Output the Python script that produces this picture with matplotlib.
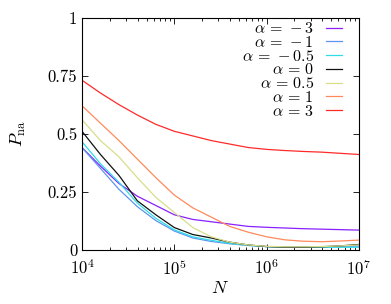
import numpy as np
import matplotlib
matplotlib.use("Agg")
import matplotlib.pyplot as plt
from matplotlib.ticker import LogLocator, NullFormatter

plt.rcParams['font.family'] = 'serif'
plt.rcParams['font.serif'] = ['cmr10']
plt.rcParams['mathtext.fontset'] = 'cm'
plt.rcParams['axes.formatter.use_mathtext'] = True

log_N = [4.0, 4.2, 4.4, 4.6, 4.8, 5.0, 5.2, 5.4, 5.6, 5.8, 6.0, 6.2, 6.4, 6.6, 6.8, 7.0]
labels = [r'$\alpha\,=\,-3$', r'$\alpha\,=\,-1$', r'$\alpha\,=\,-0.5$', r'$\alpha\,=\,0$',
          r'$\alpha\,=\,0.5$', r'$\alpha\,=\,1$', r'$\alpha\,=\,3$']
colors = ['#8a1fff', '#5c94f0', '#2fdce8', '#111111', '#d8de8a', '#ff8a5c', '#ff2a2a']

p_m3 = [.44, .36, .285, .23, .19, .15, .13, .12, .11, .10, .096, .093, .09, .088, .086, .084]
p_m1 = [.44, .35, .26, .185, .125, .08, .05, .035, .025, .018, .013, .012, .012, .013, .014, .015]
p_m05 = [.465, .37, .29, .20, .135, .085, .055, .04, .027, .018, .013, .01, .01, .01, .01, .01]
p_0 = [.51, .41, .32, .21, .15, .095, .065, .05, .032, .02, .013, .01, .01, .012, .016, .022]
p_05 = [.56, .47, .40, .31, .225, .16, .095, .055, .032, .02, .014, .012, .012, .013, .016, .02]
p_1 = [.62, .545, .47, .39, .31, .235, .18, .14, .10, .075, .055, .042, .036, .034, .037, .041]
p_3 = [.73, .675, .625, .58, .54, .51, .49, .47, .455, .44, .432, .427, .423, .42, .415, .41]
series = [p_m3, p_m1, p_m05, p_0, p_05, p_1, p_3]

yticks = [0, 0.25, 0.5, 0.75, 1]
yticklabels = ['0', '0.25', '0.5', '0.75', '1']

fig = plt.figure(figsize=(3.91, 3.04), dpi=100)
ax = fig.add_axes([0.2097, 0.179, 0.7083, 0.763])
N = 10 ** np.array(log_N)
for vals, c, lab in zip(series, colors, labels):
    ax.plot(N, vals, color=c, lw=0.9, label=lab)

ax.set_xscale('log')
ax.set_xlim(1e4, 1e7)
ax.set_ylim(0, 1)
ax.set_yticks(yticks)
ax.set_yticklabels(yticklabels)
ax.xaxis.set_minor_locator(LogLocator(base=10, subs=np.arange(2, 10)))
ax.xaxis.set_minor_formatter(NullFormatter())
ax.tick_params(which='both', direction='in', top=True, right=True, labelsize=12, width=0.6)
ax.tick_params(which='major', length=4)
ax.tick_params(which='minor', length=2)
ax.tick_params(axis='x', pad=6)
for s in ax.spines.values():
    s.set_linewidth(0.8)

ax.set_xlabel(r'$N$', fontsize=13, labelpad=2)
ax.set_ylabel(r'$P_{\rm na}$', fontsize=13, labelpad=14)

leg = ax.legend(loc='upper right', frameon=False, markerfirst=False, fontsize=11.5,
                handlelength=1.0, labelspacing=-0.08, borderaxespad=0.0,
                handletextpad=0.75, bbox_to_anchor=(0.962, 1.012))

fig.savefig('out.png', dpi=100)
